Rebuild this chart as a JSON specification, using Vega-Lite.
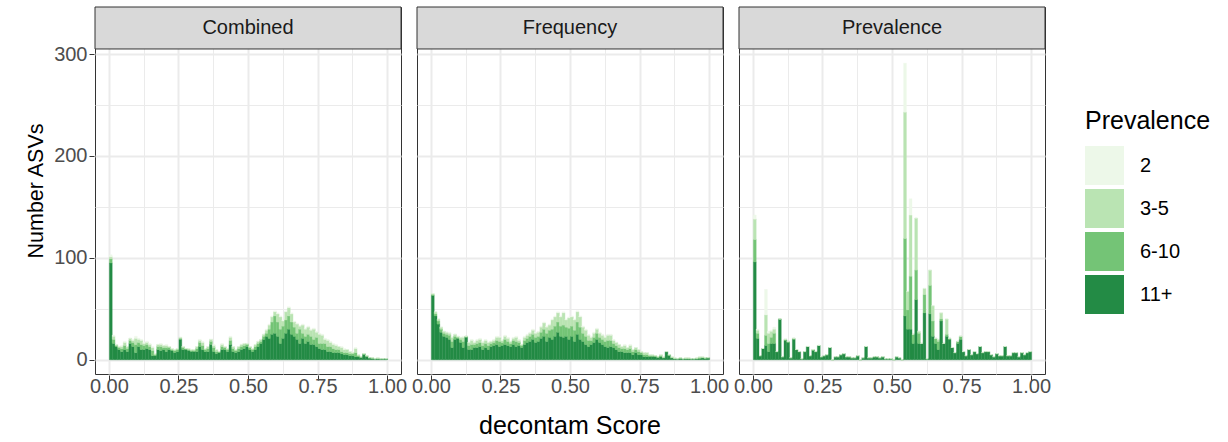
{
"$schema":"https://vega.github.io/schema/vega-lite/v6.json",
"padding":{"left":25,"top":6,"right":0,"bottom":0},
"background":"white",
"datasets":{
"levels":[{"Prevalence":"11+","rank":1},{"Prevalence":"6-10","rank":2},{"Prevalence":"3-5","rank":3},{"Prevalence":"2","rank":4}],
"hist":[
{"f":"Combined","s":0.005,"2":2,"3-5":2,"6-10":4,"11+":95},
{"f":"Combined","s":0.015,"2":1,"3-5":3,"6-10":4,"11+":16},
{"f":"Combined","s":0.025,"2":0,"3-5":1,"6-10":1,"11+":13},
{"f":"Combined","s":0.035,"2":0,"3-5":1,"6-10":2,"11+":10},
{"f":"Combined","s":0.045,"2":1,"3-5":2,"6-10":3,"11+":8},
{"f":"Combined","s":0.055,"2":1,"3-5":3,"6-10":4,"11+":10},
{"f":"Combined","s":0.065,"2":0,"3-5":2,"6-10":3,"11+":8},
{"f":"Combined","s":0.075,"2":0,"3-5":2,"6-10":3,"11+":16},
{"f":"Combined","s":0.085,"2":1,"3-5":2,"6-10":4,"11+":13},
{"f":"Combined","s":0.095,"2":2,"3-5":6,"6-10":8,"11+":7},
{"f":"Combined","s":0.105,"2":1,"3-5":3,"6-10":4,"11+":13},
{"f":"Combined","s":0.115,"2":1,"3-5":4,"6-10":5,"11+":10},
{"f":"Combined","s":0.125,"2":1,"3-5":2,"6-10":4,"11+":10},
{"f":"Combined","s":0.135,"2":1,"3-5":2,"6-10":4,"11+":11},
{"f":"Combined","s":0.145,"2":1,"3-5":2,"6-10":3,"11+":10},
{"f":"Combined","s":0.155,"2":1,"3-5":3,"6-10":5,"11+":4},
{"f":"Combined","s":0.165,"2":0,"3-5":1,"6-10":1,"11+":4},
{"f":"Combined","s":0.175,"2":0,"3-5":2,"6-10":3,"11+":10},
{"f":"Combined","s":0.185,"2":1,"3-5":2,"6-10":4,"11+":9},
{"f":"Combined","s":0.195,"2":0,"3-5":2,"6-10":2,"11+":10},
{"f":"Combined","s":0.205,"2":1,"3-5":2,"6-10":4,"11+":8},
{"f":"Combined","s":0.215,"2":0,"3-5":1,"6-10":2,"11+":10},
{"f":"Combined","s":0.225,"2":0,"3-5":1,"6-10":1,"11+":9},
{"f":"Combined","s":0.235,"2":0,"3-5":1,"6-10":2,"11+":7},
{"f":"Combined","s":0.245,"2":0,"3-5":1,"6-10":2,"11+":8},
{"f":"Combined","s":0.255,"2":0,"3-5":1,"6-10":1,"11+":20},
{"f":"Combined","s":0.265,"2":0,"3-5":1,"6-10":2,"11+":10},
{"f":"Combined","s":0.275,"2":0,"3-5":0,"6-10":1,"11+":10},
{"f":"Combined","s":0.285,"2":0,"3-5":1,"6-10":1,"11+":9},
{"f":"Combined","s":0.295,"2":0,"3-5":1,"6-10":1,"11+":8},
{"f":"Combined","s":0.305,"2":0,"3-5":1,"6-10":1,"11+":8},
{"f":"Combined","s":0.315,"2":0,"3-5":2,"6-10":3,"11+":8},
{"f":"Combined","s":0.325,"2":1,"3-5":2,"6-10":4,"11+":13},
{"f":"Combined","s":0.335,"2":1,"3-5":3,"6-10":4,"11+":10},
{"f":"Combined","s":0.345,"2":0,"3-5":1,"6-10":2,"11+":8},
{"f":"Combined","s":0.355,"2":0,"3-5":2,"6-10":3,"11+":8},
{"f":"Combined","s":0.365,"2":0,"3-5":2,"6-10":3,"11+":15},
{"f":"Combined","s":0.375,"2":1,"3-5":2,"6-10":4,"11+":8},
{"f":"Combined","s":0.385,"2":0,"3-5":2,"6-10":2,"11+":6},
{"f":"Combined","s":0.395,"2":0,"3-5":0,"6-10":1,"11+":7},
{"f":"Combined","s":0.405,"2":1,"3-5":2,"6-10":3,"11+":10},
{"f":"Combined","s":0.415,"2":0,"3-5":1,"6-10":2,"11+":10},
{"f":"Combined","s":0.425,"2":0,"3-5":1,"6-10":2,"11+":8},
{"f":"Combined","s":0.435,"2":1,"3-5":3,"6-10":4,"11+":15},
{"f":"Combined","s":0.445,"2":0,"3-5":2,"6-10":3,"11+":8},
{"f":"Combined","s":0.455,"2":0,"3-5":1,"6-10":2,"11+":7},
{"f":"Combined","s":0.465,"2":0,"3-5":2,"6-10":3,"11+":8},
{"f":"Combined","s":0.475,"2":0,"3-5":2,"6-10":3,"11+":10},
{"f":"Combined","s":0.485,"2":0,"3-5":2,"6-10":3,"11+":11},
{"f":"Combined","s":0.495,"2":0,"3-5":1,"6-10":2,"11+":13},
{"f":"Combined","s":0.505,"2":0,"3-5":1,"6-10":2,"11+":10},
{"f":"Combined","s":0.515,"2":0,"3-5":1,"6-10":2,"11+":8},
{"f":"Combined","s":0.525,"2":0,"3-5":2,"6-10":3,"11+":10},
{"f":"Combined","s":0.535,"2":0,"3-5":2,"6-10":3,"11+":13},
{"f":"Combined","s":0.545,"2":0,"3-5":2,"6-10":2,"11+":16},
{"f":"Combined","s":0.555,"2":0,"3-5":2,"6-10":3,"11+":20},
{"f":"Combined","s":0.565,"2":1,"3-5":3,"6-10":3,"11+":23},
{"f":"Combined","s":0.575,"2":1,"3-5":4,"6-10":9,"11+":21},
{"f":"Combined","s":0.585,"2":1,"3-5":5,"6-10":12,"11+":25},
{"f":"Combined","s":0.595,"2":1,"3-5":4,"6-10":17,"11+":26},
{"f":"Combined","s":0.605,"2":1,"3-5":8,"6-10":14,"11+":23},
{"f":"Combined","s":0.615,"2":1,"3-5":12,"6-10":14,"11+":16},
{"f":"Combined","s":0.625,"2":1,"3-5":5,"6-10":12,"11+":21},
{"f":"Combined","s":0.635,"2":1,"3-5":8,"6-10":13,"11+":26},
{"f":"Combined","s":0.645,"2":1,"3-5":8,"6-10":13,"11+":30},
{"f":"Combined","s":0.655,"2":1,"3-5":8,"6-10":12,"11+":25},
{"f":"Combined","s":0.665,"2":1,"3-5":5,"6-10":9,"11+":23},
{"f":"Combined","s":0.675,"2":1,"3-5":9,"6-10":6,"11+":20},
{"f":"Combined","s":0.685,"2":0,"3-5":3,"6-10":14,"11+":16},
{"f":"Combined","s":0.695,"2":1,"3-5":8,"6-10":5,"11+":21},
{"f":"Combined","s":0.705,"2":1,"3-5":7,"6-10":7,"11+":16},
{"f":"Combined","s":0.715,"2":1,"3-5":7,"6-10":7,"11+":18},
{"f":"Combined","s":0.725,"2":1,"3-5":6,"6-10":8,"11+":15},
{"f":"Combined","s":0.735,"2":1,"3-5":10,"6-10":5,"11+":15},
{"f":"Combined","s":0.745,"2":1,"3-5":5,"6-10":9,"11+":13},
{"f":"Combined","s":0.755,"2":1,"3-5":9,"6-10":5,"11+":11},
{"f":"Combined","s":0.765,"2":1,"3-5":8,"6-10":6,"11+":10},
{"f":"Combined","s":0.775,"2":1,"3-5":4,"6-10":6,"11+":10},
{"f":"Combined","s":0.785,"2":1,"3-5":6,"6-10":5,"11+":8},
{"f":"Combined","s":0.795,"2":1,"3-5":4,"6-10":5,"11+":8},
{"f":"Combined","s":0.805,"2":1,"3-5":4,"6-10":4,"11+":7},
{"f":"Combined","s":0.815,"2":1,"3-5":4,"6-10":3,"11+":7},
{"f":"Combined","s":0.825,"2":0,"3-5":3,"6-10":3,"11+":7},
{"f":"Combined","s":0.835,"2":1,"3-5":4,"6-10":2,"11+":6},
{"f":"Combined","s":0.845,"2":1,"3-5":3,"6-10":2,"11+":5},
{"f":"Combined","s":0.855,"2":0,"3-5":3,"6-10":2,"11+":5},
{"f":"Combined","s":0.865,"2":0,"3-5":2,"6-10":2,"11+":4},
{"f":"Combined","s":0.875,"2":0,"3-5":1,"6-10":2,"11+":4},
{"f":"Combined","s":0.885,"2":1,"3-5":4,"6-10":4,"11+":3},
{"f":"Combined","s":0.895,"2":0,"3-5":1,"6-10":1,"11+":3},
{"f":"Combined","s":0.905,"2":0,"3-5":0,"6-10":1,"11+":2},
{"f":"Combined","s":0.915,"2":0,"3-5":0,"6-10":1,"11+":5},
{"f":"Combined","s":0.925,"2":0,"3-5":0,"6-10":1,"11+":3},
{"f":"Combined","s":0.935,"2":0,"3-5":0,"6-10":0,"11+":2},
{"f":"Combined","s":0.945,"2":0,"3-5":0,"6-10":1,"11+":1},
{"f":"Combined","s":0.955,"2":0,"3-5":0,"6-10":0,"11+":1},
{"f":"Combined","s":0.965,"2":0,"3-5":1,"6-10":0,"11+":1},
{"f":"Combined","s":0.975,"2":0,"3-5":0,"6-10":0,"11+":1},
{"f":"Combined","s":0.985,"2":0,"3-5":0,"6-10":0,"11+":1},
{"f":"Combined","s":0.995,"2":0,"3-5":0,"6-10":0,"11+":1},
{"f":"Frequency","s":0.005,"2":0,"3-5":1,"6-10":1,"11+":63},
{"f":"Frequency","s":0.015,"2":0,"3-5":2,"6-10":2,"11+":43},
{"f":"Frequency","s":0.025,"2":0,"3-5":2,"6-10":3,"11+":35},
{"f":"Frequency","s":0.035,"2":0,"3-5":2,"6-10":3,"11+":27},
{"f":"Frequency","s":0.045,"2":0,"3-5":2,"6-10":3,"11+":23},
{"f":"Frequency","s":0.055,"2":0,"3-5":2,"6-10":3,"11+":22},
{"f":"Frequency","s":0.065,"2":1,"3-5":2,"6-10":4,"11+":20},
{"f":"Frequency","s":0.075,"2":1,"3-5":4,"6-10":6,"11+":12},
{"f":"Frequency","s":0.085,"2":0,"3-5":2,"6-10":3,"11+":20},
{"f":"Frequency","s":0.095,"2":0,"3-5":1,"6-10":1,"11+":21},
{"f":"Frequency","s":0.105,"2":0,"3-5":2,"6-10":3,"11+":17},
{"f":"Frequency","s":0.115,"2":1,"3-5":4,"6-10":6,"11+":12},
{"f":"Frequency","s":0.125,"2":0,"3-5":0,"6-10":1,"11+":22},
{"f":"Frequency","s":0.135,"2":0,"3-5":3,"6-10":4,"11+":10},
{"f":"Frequency","s":0.145,"2":1,"3-5":4,"6-10":5,"11+":10},
{"f":"Frequency","s":0.155,"2":1,"3-5":2,"6-10":3,"11+":12},
{"f":"Frequency","s":0.165,"2":1,"3-5":3,"6-10":4,"11+":12},
{"f":"Frequency","s":0.175,"2":1,"3-5":3,"6-10":4,"11+":13},
{"f":"Frequency","s":0.185,"2":1,"3-5":3,"6-10":4,"11+":10},
{"f":"Frequency","s":0.195,"2":1,"3-5":3,"6-10":4,"11+":12},
{"f":"Frequency","s":0.205,"2":0,"3-5":3,"6-10":4,"11+":10},
{"f":"Frequency","s":0.215,"2":0,"3-5":2,"6-10":3,"11+":13},
{"f":"Frequency","s":0.225,"2":1,"3-5":2,"6-10":3,"11+":14},
{"f":"Frequency","s":0.235,"2":1,"3-5":3,"6-10":4,"11+":15},
{"f":"Frequency","s":0.245,"2":1,"3-5":4,"6-10":5,"11+":13},
{"f":"Frequency","s":0.255,"2":1,"3-5":2,"6-10":3,"11+":14},
{"f":"Frequency","s":0.265,"2":1,"3-5":3,"6-10":5,"11+":15},
{"f":"Frequency","s":0.275,"2":1,"3-5":3,"6-10":4,"11+":14},
{"f":"Frequency","s":0.285,"2":0,"3-5":2,"6-10":3,"11+":13},
{"f":"Frequency","s":0.295,"2":1,"3-5":2,"6-10":4,"11+":15},
{"f":"Frequency","s":0.305,"2":1,"3-5":4,"6-10":5,"11+":13},
{"f":"Frequency","s":0.315,"2":1,"3-5":2,"6-10":3,"11+":14},
{"f":"Frequency","s":0.325,"2":0,"3-5":1,"6-10":2,"11+":12},
{"f":"Frequency","s":0.335,"2":1,"3-5":3,"6-10":4,"11+":15},
{"f":"Frequency","s":0.345,"2":1,"3-5":3,"6-10":4,"11+":17},
{"f":"Frequency","s":0.355,"2":1,"3-5":3,"6-10":5,"11+":18},
{"f":"Frequency","s":0.365,"2":1,"3-5":4,"6-10":5,"11+":20},
{"f":"Frequency","s":0.375,"2":1,"3-5":4,"6-10":5,"11+":17},
{"f":"Frequency","s":0.385,"2":1,"3-5":4,"6-10":5,"11+":18},
{"f":"Frequency","s":0.395,"2":1,"3-5":5,"6-10":6,"11+":21},
{"f":"Frequency","s":0.405,"2":1,"3-5":6,"6-10":7,"11+":23},
{"f":"Frequency","s":0.415,"2":1,"3-5":6,"6-10":8,"11+":18},
{"f":"Frequency","s":0.425,"2":1,"3-5":5,"6-10":7,"11+":22},
{"f":"Frequency","s":0.435,"2":1,"3-5":9,"6-10":10,"11+":20},
{"f":"Frequency","s":0.445,"2":1,"3-5":9,"6-10":10,"11+":23},
{"f":"Frequency","s":0.455,"2":1,"3-5":9,"6-10":10,"11+":27},
{"f":"Frequency","s":0.465,"2":1,"3-5":9,"6-10":10,"11+":23},
{"f":"Frequency","s":0.475,"2":1,"3-5":12,"6-10":12,"11+":22},
{"f":"Frequency","s":0.485,"2":1,"3-5":7,"6-10":9,"11+":23},
{"f":"Frequency","s":0.495,"2":1,"3-5":10,"6-10":11,"11+":20},
{"f":"Frequency","s":0.505,"2":1,"3-5":9,"6-10":10,"11+":23},
{"f":"Frequency","s":0.515,"2":1,"3-5":10,"6-10":11,"11+":18},
{"f":"Frequency","s":0.525,"2":1,"3-5":10,"6-10":12,"11+":25},
{"f":"Frequency","s":0.535,"2":1,"3-5":10,"6-10":12,"11+":20},
{"f":"Frequency","s":0.545,"2":1,"3-5":6,"6-10":8,"11+":18},
{"f":"Frequency","s":0.555,"2":1,"3-5":6,"6-10":8,"11+":15},
{"f":"Frequency","s":0.565,"2":1,"3-5":5,"6-10":6,"11+":13},
{"f":"Frequency","s":0.575,"2":1,"3-5":3,"6-10":4,"11+":15},
{"f":"Frequency","s":0.585,"2":1,"3-5":4,"6-10":5,"11+":17},
{"f":"Frequency","s":0.595,"2":1,"3-5":4,"6-10":6,"11+":20},
{"f":"Frequency","s":0.605,"2":1,"3-5":4,"6-10":5,"11+":17},
{"f":"Frequency","s":0.615,"2":1,"3-5":4,"6-10":5,"11+":15},
{"f":"Frequency","s":0.625,"2":1,"3-5":4,"6-10":5,"11+":13},
{"f":"Frequency","s":0.635,"2":1,"3-5":5,"6-10":7,"11+":12},
{"f":"Frequency","s":0.645,"2":1,"3-5":5,"6-10":6,"11+":13},
{"f":"Frequency","s":0.655,"2":1,"3-5":3,"6-10":4,"11+":12},
{"f":"Frequency","s":0.665,"2":0,"3-5":3,"6-10":4,"11+":10},
{"f":"Frequency","s":0.675,"2":0,"3-5":3,"6-10":4,"11+":8},
{"f":"Frequency","s":0.685,"2":0,"3-5":2,"6-10":3,"11+":8},
{"f":"Frequency","s":0.695,"2":1,"3-5":3,"6-10":4,"11+":7},
{"f":"Frequency","s":0.705,"2":0,"3-5":2,"6-10":3,"11+":7},
{"f":"Frequency","s":0.715,"2":1,"3-5":3,"6-10":4,"11+":7},
{"f":"Frequency","s":0.725,"2":0,"3-5":2,"6-10":3,"11+":5},
{"f":"Frequency","s":0.735,"2":0,"3-5":2,"6-10":3,"11+":7},
{"f":"Frequency","s":0.745,"2":0,"3-5":2,"6-10":3,"11+":5},
{"f":"Frequency","s":0.755,"2":0,"3-5":1,"6-10":2,"11+":5},
{"f":"Frequency","s":0.765,"2":0,"3-5":2,"6-10":2,"11+":3},
{"f":"Frequency","s":0.775,"2":0,"3-5":2,"6-10":2,"11+":3},
{"f":"Frequency","s":0.785,"2":0,"3-5":1,"6-10":1,"11+":3},
{"f":"Frequency","s":0.795,"2":0,"3-5":1,"6-10":1,"11+":3},
{"f":"Frequency","s":0.805,"2":0,"3-5":0,"6-10":1,"11+":3},
{"f":"Frequency","s":0.815,"2":0,"3-5":0,"6-10":1,"11+":2},
{"f":"Frequency","s":0.825,"2":0,"3-5":1,"6-10":1,"11+":3},
{"f":"Frequency","s":0.835,"2":0,"3-5":1,"6-10":0,"11+":2},
{"f":"Frequency","s":0.845,"2":0,"3-5":0,"6-10":0,"11+":8},
{"f":"Frequency","s":0.855,"2":0,"3-5":0,"6-10":1,"11+":4},
{"f":"Frequency","s":0.865,"2":0,"3-5":1,"6-10":0,"11+":2},
{"f":"Frequency","s":0.875,"2":0,"3-5":1,"6-10":0,"11+":1},
{"f":"Frequency","s":0.885,"2":0,"3-5":0,"6-10":0,"11+":1},
{"f":"Frequency","s":0.895,"2":0,"3-5":0,"6-10":1,"11+":1},
{"f":"Frequency","s":0.905,"2":0,"3-5":0,"6-10":0,"11+":1},
{"f":"Frequency","s":0.915,"2":0,"3-5":1,"6-10":0,"11+":1},
{"f":"Frequency","s":0.925,"2":0,"3-5":1,"6-10":0,"11+":1},
{"f":"Frequency","s":0.935,"2":0,"3-5":0,"6-10":0,"11+":1},
{"f":"Frequency","s":0.945,"2":0,"3-5":0,"6-10":0,"11+":1},
{"f":"Frequency","s":0.955,"2":0,"3-5":1,"6-10":0,"11+":1},
{"f":"Frequency","s":0.965,"2":0,"3-5":1,"6-10":1,"11+":1},
{"f":"Frequency","s":0.975,"2":0,"3-5":1,"6-10":0,"11+":2},
{"f":"Frequency","s":0.985,"2":0,"3-5":0,"6-10":1,"11+":1},
{"f":"Frequency","s":0.995,"2":0,"3-5":0,"6-10":0,"11+":2},
{"f":"Prevalence","s":0.005,"2":4,"3-5":20,"6-10":22,"11+":96},
{"f":"Prevalence","s":0.015,"2":1,"3-5":3,"6-10":5,"11+":21},
{"f":"Prevalence","s":0.025,"2":0,"3-5":0,"6-10":0,"11+":4},
{"f":"Prevalence","s":0.035,"2":0,"3-5":0,"6-10":0,"11+":11},
{"f":"Prevalence","s":0.045,"2":25,"3-5":20,"6-10":10,"11+":14},
{"f":"Prevalence","s":0.055,"2":2,"3-5":10,"6-10":8,"11+":8},
{"f":"Prevalence","s":0.065,"2":1,"3-5":6,"6-10":6,"11+":16},
{"f":"Prevalence","s":0.075,"2":2,"3-5":4,"6-10":10,"11+":16},
{"f":"Prevalence","s":0.085,"2":0,"3-5":0,"6-10":0,"11+":8},
{"f":"Prevalence","s":0.095,"2":0,"3-5":0,"6-10":0,"11+":40},
{"f":"Prevalence","s":0.105,"2":0,"3-5":0,"6-10":0,"11+":3},
{"f":"Prevalence","s":0.115,"2":0,"3-5":0,"6-10":1,"11+":19},
{"f":"Prevalence","s":0.125,"2":0,"3-5":0,"6-10":1,"11+":17},
{"f":"Prevalence","s":0.135,"2":0,"3-5":0,"6-10":0,"11+":2},
{"f":"Prevalence","s":0.145,"2":0,"3-5":0,"6-10":1,"11+":20},
{"f":"Prevalence","s":0.155,"2":0,"3-5":0,"6-10":0,"11+":10},
{"f":"Prevalence","s":0.165,"2":0,"3-5":0,"6-10":0,"11+":8},
{"f":"Prevalence","s":0.175,"2":0,"3-5":0,"6-10":0,"11+":1},
{"f":"Prevalence","s":0.185,"2":0,"3-5":0,"6-10":0,"11+":8},
{"f":"Prevalence","s":0.195,"2":0,"3-5":0,"6-10":0,"11+":13},
{"f":"Prevalence","s":0.205,"2":0,"3-5":0,"6-10":0,"11+":4},
{"f":"Prevalence","s":0.215,"2":0,"3-5":0,"6-10":1,"11+":9},
{"f":"Prevalence","s":0.225,"2":0,"3-5":0,"6-10":0,"11+":8},
{"f":"Prevalence","s":0.235,"2":0,"3-5":0,"6-10":0,"11+":14},
{"f":"Prevalence","s":0.245,"2":0,"3-5":0,"6-10":0,"11+":3},
{"f":"Prevalence","s":0.255,"2":0,"3-5":0,"6-10":0,"11+":4},
{"f":"Prevalence","s":0.265,"2":0,"3-5":0,"6-10":0,"11+":5},
{"f":"Prevalence","s":0.275,"2":0,"3-5":0,"6-10":0,"11+":12},
{"f":"Prevalence","s":0.285,"2":0,"3-5":0,"6-10":0,"11+":0},
{"f":"Prevalence","s":0.295,"2":0,"3-5":0,"6-10":0,"11+":3},
{"f":"Prevalence","s":0.305,"2":0,"3-5":0,"6-10":0,"11+":3},
{"f":"Prevalence","s":0.315,"2":0,"3-5":0,"6-10":0,"11+":5},
{"f":"Prevalence","s":0.325,"2":0,"3-5":0,"6-10":0,"11+":6},
{"f":"Prevalence","s":0.335,"2":0,"3-5":0,"6-10":0,"11+":3},
{"f":"Prevalence","s":0.345,"2":0,"3-5":0,"6-10":0,"11+":3},
{"f":"Prevalence","s":0.355,"2":0,"3-5":0,"6-10":0,"11+":2},
{"f":"Prevalence","s":0.365,"2":0,"3-5":0,"6-10":0,"11+":2},
{"f":"Prevalence","s":0.375,"2":0,"3-5":0,"6-10":0,"11+":4},
{"f":"Prevalence","s":0.385,"2":0,"3-5":0,"6-10":0,"11+":0},
{"f":"Prevalence","s":0.395,"2":0,"3-5":0,"6-10":0,"11+":2},
{"f":"Prevalence","s":0.405,"2":0,"3-5":0,"6-10":0,"11+":13},
{"f":"Prevalence","s":0.415,"2":0,"3-5":0,"6-10":0,"11+":2},
{"f":"Prevalence","s":0.425,"2":0,"3-5":0,"6-10":0,"11+":2},
{"f":"Prevalence","s":0.435,"2":0,"3-5":0,"6-10":0,"11+":3},
{"f":"Prevalence","s":0.445,"2":0,"3-5":0,"6-10":0,"11+":3},
{"f":"Prevalence","s":0.455,"2":0,"3-5":0,"6-10":0,"11+":2},
{"f":"Prevalence","s":0.465,"2":0,"3-5":0,"6-10":0,"11+":3},
{"f":"Prevalence","s":0.475,"2":0,"3-5":0,"6-10":0,"11+":1},
{"f":"Prevalence","s":0.485,"2":0,"3-5":0,"6-10":0,"11+":1},
{"f":"Prevalence","s":0.495,"2":0,"3-5":0,"6-10":0,"11+":1},
{"f":"Prevalence","s":0.505,"2":0,"3-5":0,"6-10":0,"11+":0},
{"f":"Prevalence","s":0.515,"2":0,"3-5":0,"6-10":0,"11+":3},
{"f":"Prevalence","s":0.525,"2":0,"3-5":0,"6-10":0,"11+":2},
{"f":"Prevalence","s":0.535,"2":0,"3-5":0,"6-10":0,"11+":0},
{"f":"Prevalence","s":0.545,"2":48,"3-5":124,"6-10":76,"11+":43},
{"f":"Prevalence","s":0.555,"2":0,"3-5":18,"6-10":19,"11+":30},
{"f":"Prevalence","s":0.565,"2":16,"3-5":60,"6-10":52,"11+":30},
{"f":"Prevalence","s":0.575,"2":0,"3-5":0,"6-10":9,"11+":16},
{"f":"Prevalence","s":0.585,"2":0,"3-5":51,"6-10":29,"11+":59},
{"f":"Prevalence","s":0.595,"2":0,"3-5":2,"6-10":10,"11+":16},
{"f":"Prevalence","s":0.605,"2":0,"3-5":0,"6-10":0,"11+":16},
{"f":"Prevalence","s":0.615,"2":0,"3-5":6,"6-10":18,"11+":46},
{"f":"Prevalence","s":0.625,"2":0,"3-5":0,"6-10":0,"11+":1},
{"f":"Prevalence","s":0.635,"2":0,"3-5":15,"6-10":28,"11+":45},
{"f":"Prevalence","s":0.645,"2":0,"3-5":15,"6-10":15,"11+":23},
{"f":"Prevalence","s":0.655,"2":0,"3-5":0,"6-10":5,"11+":16},
{"f":"Prevalence","s":0.665,"2":0,"3-5":2,"6-10":8,"11+":10},
{"f":"Prevalence","s":0.675,"2":0,"3-5":6,"6-10":2,"11+":38},
{"f":"Prevalence","s":0.685,"2":0,"3-5":0,"6-10":0,"11+":16},
{"f":"Prevalence","s":0.695,"2":0,"3-5":15,"6-10":2,"11+":23},
{"f":"Prevalence","s":0.705,"2":0,"3-5":0,"6-10":1,"11+":20},
{"f":"Prevalence","s":0.715,"2":0,"3-5":0,"6-10":0,"11+":12},
{"f":"Prevalence","s":0.725,"2":0,"3-5":0,"6-10":0,"11+":7},
{"f":"Prevalence","s":0.735,"2":0,"3-5":0,"6-10":2,"11+":16},
{"f":"Prevalence","s":0.745,"2":0,"3-5":0,"6-10":3,"11+":20},
{"f":"Prevalence","s":0.755,"2":0,"3-5":0,"6-10":0,"11+":8},
{"f":"Prevalence","s":0.765,"2":0,"3-5":0,"6-10":0,"11+":4},
{"f":"Prevalence","s":0.775,"2":0,"3-5":0,"6-10":0,"11+":10},
{"f":"Prevalence","s":0.785,"2":0,"3-5":0,"6-10":0,"11+":5},
{"f":"Prevalence","s":0.795,"2":0,"3-5":0,"6-10":0,"11+":8},
{"f":"Prevalence","s":0.805,"2":0,"3-5":0,"6-10":0,"11+":6},
{"f":"Prevalence","s":0.815,"2":0,"3-5":0,"6-10":0,"11+":13},
{"f":"Prevalence","s":0.825,"2":0,"3-5":0,"6-10":0,"11+":7},
{"f":"Prevalence","s":0.835,"2":0,"3-5":0,"6-10":0,"11+":8},
{"f":"Prevalence","s":0.845,"2":0,"3-5":0,"6-10":0,"11+":8},
{"f":"Prevalence","s":0.855,"2":0,"3-5":0,"6-10":0,"11+":5},
{"f":"Prevalence","s":0.865,"2":0,"3-5":0,"6-10":0,"11+":3},
{"f":"Prevalence","s":0.875,"2":0,"3-5":0,"6-10":0,"11+":6},
{"f":"Prevalence","s":0.885,"2":0,"3-5":0,"6-10":0,"11+":4},
{"f":"Prevalence","s":0.895,"2":0,"3-5":0,"6-10":0,"11+":4},
{"f":"Prevalence","s":0.905,"2":0,"3-5":0,"6-10":0,"11+":13},
{"f":"Prevalence","s":0.915,"2":0,"3-5":0,"6-10":0,"11+":4},
{"f":"Prevalence","s":0.925,"2":0,"3-5":0,"6-10":0,"11+":4},
{"f":"Prevalence","s":0.935,"2":0,"3-5":0,"6-10":0,"11+":7},
{"f":"Prevalence","s":0.945,"2":0,"3-5":0,"6-10":0,"11+":7},
{"f":"Prevalence","s":0.955,"2":0,"3-5":0,"6-10":0,"11+":3},
{"f":"Prevalence","s":0.965,"2":0,"3-5":0,"6-10":0,"11+":7},
{"f":"Prevalence","s":0.975,"2":0,"3-5":0,"6-10":0,"11+":5},
{"f":"Prevalence","s":0.985,"2":0,"3-5":0,"6-10":0,"11+":7},
{"f":"Prevalence","s":0.995,"2":0,"3-5":0,"6-10":0,"11+":8}
]},
"data":{"name":"hist"},
"transform":[
{"fold":["11+","6-10","3-5","2"],"as":["Prevalence","n"]},
{"lookup":"Prevalence","from":{"data":{"name":"levels"},"key":"Prevalence","fields":["rank"]}}
],
"facet":{"column":{"field":"f","type":"nominal","title":"decontam Score","header":{"labels":false,"titleOrient":"bottom","titleFontSize":25,"titleFontWeight":"normal","titleColor":"#000000","titlePadding":8,"titleFont":"Liberation Sans"}}},
"spacing":14,
"spec":{
"width":306,"height":367,
"layer":[
{"mark":{"type":"bar","binSpacing":0,"strokeWidth":0.4},
"encoding":{
"x":{"field":"s","type":"quantitative","bin":{"extent":[0,1],"step":0.01},"scale":{"domain":[-0.05,1.05],"nice":false,"zero":false},
"axis":{"title":null,"grid":true,"values":[0,0.125,0.25,0.375,0.5,0.625,0.75,0.875,1],"labelExpr":"(datum.value*4)%1===0 ? format(datum.value,'.2f') : ''","labelFlush":false,"labelOverlap":false,
"gridWidth":{"condition":{"test":"(datum.value*4)%1===0","value":2},"value":1},
"tickOpacity":{"condition":{"test":"(datum.value*4)%1===0","value":1},"value":0}}},
"y":{"aggregate":"sum","field":"n","type":"quantitative","scale":{"domain":[-14,346.2],"nice":false,"zero":false},
"axis":{"title":"Number ASVs","values":[0,50,100,150,200,250,300],"labelExpr":"datum.value%100===0 ? datum.label : ''",
"gridWidth":{"condition":{"test":"datum.value%100===0","value":2},"value":1},
"tickOpacity":{"condition":{"test":"datum.value%100===0","value":1},"value":0}}},
"color":{"field":"Prevalence","type":"nominal","scale":{"domain":["2","3-5","6-10","11+"],"range":["#edf8e9","#bae4b3","#74c476","#238b45"]},
"legend":{"title":"Prevalence","orient":"none","legendX":990,"legendY":102}},
"stroke":{"field":"Prevalence","type":"nominal","scale":{"domain":["2","3-5","6-10","11+"],"range":["#edf8e9","#bae4b3","#74c476","#238b45"]},"legend":null},
"order":{"field":"rank","aggregate":"min"}
}},
{"transform":[{"aggregate":[{"op":"count","as":"c"}],"groupby":["f"]}],
"mark":{"type":"rect","fill":"#d9d9d9","stroke":"#333333","strokeWidth":1},
"encoding":{"x":{"datum":-0.05},"x2":{"datum":1.05},"y":{"datum":305},"y2":{"datum":346.2}}},
{"transform":[{"aggregate":[{"op":"count","as":"c"}],"groupby":["f"]}],
"mark":{"type":"text","fontSize":20,"color":"#1a1a1a","baseline":"middle","align":"center","font":"Liberation Sans"},
"encoding":{"x":{"datum":0.5},"y":{"datum":325.6},"text":{"field":"f"}}}
]},
"config":{
"font":"Liberation Sans",
"view":{"stroke":"#333333","strokeWidth":1},
"axis":{"domain":false,"gridColor":"#ebebeb","tickColor":"#333333","tickSize":5,"tickWidth":1,"labelColor":"#4d4d4d","labelFontSize":20,"labelPadding":2,"titleColor":"#000000","titleFontWeight":"normal","labelFont":"Liberation Sans","titleFont":"Liberation Sans"},
"axisX":{"labelPadding":-4},
"axisY":{"titleFontSize":21.5,"titlePadding":6},
"legend":{"titleFontSize":25,"titleFontWeight":"normal","titleColor":"#000000","labelFontSize":20,"labelColor":"#000000","symbolType":"square","symbolSize":1521,"symbolStrokeWidth":0,"symbolOpacity":1,"rowPadding":4,"labelOffset":16,"titlePadding":12,"labelFont":"Liberation Sans","titleFont":"Liberation Sans"}
}
}
